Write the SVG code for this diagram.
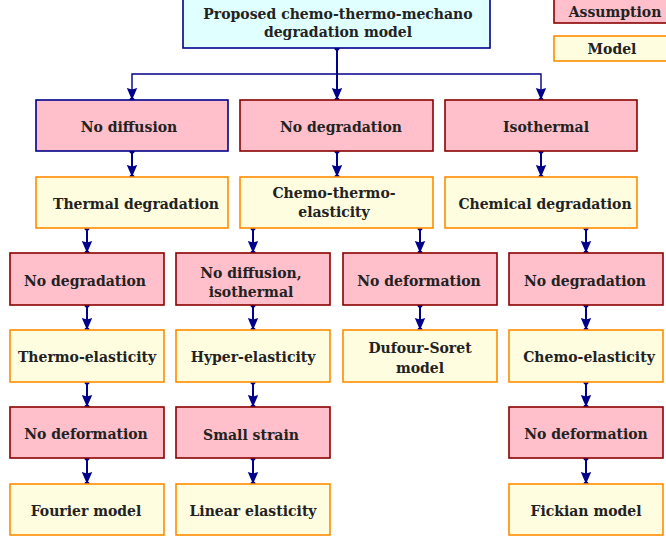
<svg xmlns="http://www.w3.org/2000/svg" width="666" height="539" viewBox="0 0 666 539">
<defs>
<style>
.a{fill:#ffc0cb;stroke:#8b0000;stroke-width:1.6}
.an{fill:#ffc0cb;stroke:#00008b;stroke-width:1.6}
.m{fill:#fffde0;stroke:#ff8c00;stroke-width:1.6}
.top{fill:#e0ffff;stroke:#00008b;stroke-width:1.6}
text{font-family:"DejaVu Serif","Liberation Serif",serif;font-weight:bold;font-size:14px;fill:#222;text-anchor:middle}
.c{fill:none;stroke:#00008b;stroke-width:2}
.ct{fill:none;stroke:#00008b;stroke-width:1.4}
</style>
<marker id="arr" markerUnits="userSpaceOnUse" markerWidth="20" markerHeight="20" viewBox="-14 -7 20 14" refX="0" refY="0" orient="auto">
<path d="M0,0 L-12,-5.2 L-10.5,0 L-12,5.2 Z" fill="#00008b"/>
<circle cx="0" cy="0" r="2.6" fill="#00008b"/>
</marker>
<marker id="dot" markerUnits="userSpaceOnUse" markerWidth="8" markerHeight="8" viewBox="-4 -4 8 8" refX="0" refY="0">
<circle cx="0" cy="0" r="2.6" fill="#00008b"/>
</marker>
</defs>
<rect width="666" height="539" fill="#fff"/>

<g id="connectors">
<path class="ct" d="M337,74 H132 V100" marker-end="url(#arr)"/>
<path class="ct" d="M337,74 H541 V100" marker-end="url(#arr)"/>
<path class="c" d="M337,48 V100" marker-start="url(#dot)" marker-end="url(#arr)"/>
<path class="c" d="M132,151 V177" marker-start="url(#dot)" marker-end="url(#arr)"/>
<path class="c" d="M337,151 V177" marker-start="url(#dot)" marker-end="url(#arr)"/>
<path class="c" d="M541,151 V177" marker-start="url(#dot)" marker-end="url(#arr)"/>
<path class="c" d="M87,228 V253" marker-start="url(#dot)" marker-end="url(#arr)"/>
<path class="c" d="M253,228 V253" marker-start="url(#dot)" marker-end="url(#arr)"/>
<path class="c" d="M420,228 V253" marker-start="url(#dot)" marker-end="url(#arr)"/>
<path class="c" d="M586,228 V253" marker-start="url(#dot)" marker-end="url(#arr)"/>
<path class="c" d="M87,305 V330" marker-start="url(#dot)" marker-end="url(#arr)"/>
<path class="c" d="M253,305 V330" marker-start="url(#dot)" marker-end="url(#arr)"/>
<path class="c" d="M420,305 V330" marker-start="url(#dot)" marker-end="url(#arr)"/>
<path class="c" d="M586,305 V330" marker-start="url(#dot)" marker-end="url(#arr)"/>
<path class="c" d="M87,382 V407" marker-start="url(#dot)" marker-end="url(#arr)"/>
<path class="c" d="M253,382 V407" marker-start="url(#dot)" marker-end="url(#arr)"/>
<path class="c" d="M586,382 V407" marker-start="url(#dot)" marker-end="url(#arr)"/>
<path class="c" d="M87,458 V484" marker-start="url(#dot)" marker-end="url(#arr)"/>
<path class="c" d="M253,458 V484" marker-start="url(#dot)" marker-end="url(#arr)"/>
<path class="c" d="M586,458 V484" marker-start="url(#dot)" marker-end="url(#arr)"/>
</g>

<g id="top"><rect class="top" x="183" y="-5" width="307" height="53"/><text x="338" y="19">Proposed chemo-thermo-mechano</text><text x="338" y="37">degradation model</text></g>
<g id="legend-assumption"><rect class="a" x="554" y="-5" width="120" height="28"/><text x="615" y="17">Assumption</text></g>
<g id="legend-model"><rect class="m" x="554" y="36" width="120" height="25"/><text x="612" y="54">Model</text></g>

<g id="no-diffusion"><rect class="an" x="36" y="100" width="192" height="51"/><text x="129" y="132">No diffusion</text></g>
<g id="no-degradation-1"><rect class="a" x="240" y="100" width="193" height="51"/><text x="341" y="132">No degradation</text></g>
<g id="isothermal"><rect class="a" x="445" y="100" width="192" height="51"/><text x="546" y="132">Isothermal</text></g>

<g id="thermal-degradation"><rect class="m" x="36" y="177" width="192" height="51"/><text x="136" y="209">Thermal degradation</text></g>
<g id="chemo-thermo-elasticity"><rect class="m" x="240" y="177" width="193" height="51"/><text x="334" y="198">Chemo-thermo-</text><text x="334" y="217">elasticity</text></g>
<g id="chemical-degradation"><rect class="m" x="445" y="177" width="192" height="51"/><text x="545" y="209">Chemical degradation</text></g>

<g id="no-degradation-2"><rect class="a" x="10" y="253" width="154" height="52"/><text x="85" y="286">No degradation</text></g>
<g id="no-diffusion-isothermal"><rect class="a" x="176" y="253" width="154" height="52"/><text x="251" y="278">No diffusion,</text><text x="251" y="297">isothermal</text></g>
<g id="no-deformation-1"><rect class="a" x="343" y="253" width="154" height="52"/><text x="419" y="286">No deformation</text></g>
<g id="no-degradation-3"><rect class="a" x="509" y="253" width="154" height="52"/><text x="585" y="286">No degradation</text></g>

<g id="thermo-elasticity"><rect class="m" x="10" y="330" width="154" height="52"/><text x="87" y="362">Thermo-elasticity</text></g>
<g id="hyper-elasticity"><rect class="m" x="176" y="330" width="154" height="52"/><text x="253" y="362">Hyper-elasticity</text></g>
<g id="dufour-soret"><rect class="m" x="343" y="330" width="154" height="52"/><text x="420" y="353">Dufour-Soret</text><text x="420" y="373">model</text></g>
<g id="chemo-elasticity"><rect class="m" x="509" y="330" width="154" height="52"/><text x="589" y="362">Chemo-elasticity</text></g>

<g id="no-deformation-2"><rect class="a" x="10" y="407" width="154" height="51"/><text x="86" y="439">No deformation</text></g>
<g id="small-strain"><rect class="a" x="176" y="407" width="154" height="51"/><text x="251" y="440">Small strain</text></g>
<g id="no-deformation-3"><rect class="a" x="509" y="407" width="154" height="51"/><text x="586" y="439">No deformation</text></g>

<g id="fourier"><rect class="m" x="10" y="484" width="154" height="51"/><text x="86" y="516">Fourier model</text></g>
<g id="linear-elasticity"><rect class="m" x="176" y="484" width="154" height="51"/><text x="253" y="516">Linear elasticity</text></g>
<g id="fickian"><rect class="m" x="509" y="484" width="154" height="51"/><text x="586" y="516">Fickian model</text></g>
</svg>
